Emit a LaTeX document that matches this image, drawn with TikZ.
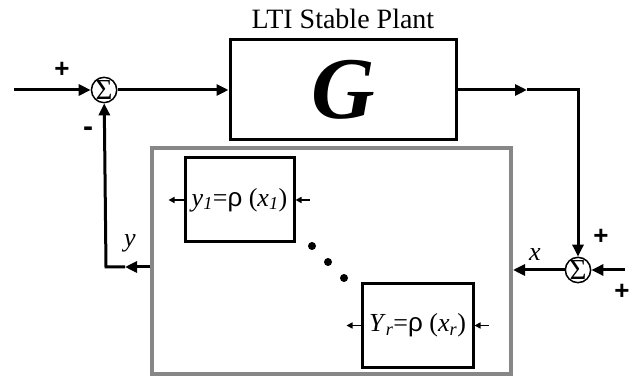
\documentclass[tikz,border=0pt]{standalone}
\usepackage{fontspec}
\setmainfont{Liberation Serif}
\setsansfont{Liberation Sans}
\newfontfamily\rhofont{Liberation Sans}
\usepackage{tikz}
\usetikzlibrary{arrows.meta, positioning}

\begin{document}
\begin{tikzpicture}[x=1pt, y=1pt, node distance=1cm,
    block/.style={rectangle, draw=black, line width=3pt, inner sep=0pt},
    plant/.style={block, minimum width=226pt, minimum height=100pt, font=\fontsize{88}{90}\selectfont\bfseries\itshape},
    nlbox/.style={block, minimum width=109pt, minimum height=84pt, font=\fontsize{26}{28}\selectfont},
    sumnode/.style={circle, draw=black, line width=1.5pt, minimum size=25pt, inner sep=0pt, font=\fontsize{29}{30}\selectfont},
    arrow/.style={-{Triangle[length=12pt,width=11pt]}, line width=3pt},
    thinarrow/.style={-{Triangle[length=6pt,width=6pt]}, line width=1.5pt},
    sign/.style={font=\fontsize{26}{28}\selectfont\sffamily\bfseries},
    sig/.style={font=\fontsize{26}{28}\selectfont\itshape}]

    \useasboundingbox (0,0) rectangle (641,379);

    \node[plant] (G) at (343,289) {G};
    \node[above=6pt of G, font=\fontsize{28}{30}\selectfont] (title) {LTI Stable Plant};
    \node[sumnode, left=111pt of G] (sum1) {Σ};
    \node[sumnode] (sum2) at (578,109) {Σ};

    % nonlinear part
    \node[rectangle, draw=black!47, line width=4pt, minimum width=359pt, minimum height=226pt] (nonlin) at (331.5,118) {};
    \node[nlbox] (yone) at (239.5,179) {\textit{y}\textsubscript{\textit{1}}={\rhofont ρ} (\textit{x}\textsubscript{\textit{1}})};
    \node[nlbox, minimum width=111pt] (yr) at (417.5,53.5) {\textit{Y}\textsubscript{\textit{r}}={\rhofont ρ} (\textit{x}\textsubscript{\textit{r}})};
    \foreach \i in {0,1,2}
        \fill (312+16*\i,133-16*\i) circle (4);

    \coordinate (lin) at (14,289);
    \coordinate (rin) at (625,109);
    \coordinate (gmid) at (527,289);
    \coordinate (gturn) at (578,289);
    \coordinate (ymid) at (125,112);
    \coordinate (yturn) at (106,112);
    \coordinate[left=15pt of yone] (yoneout);
    \coordinate[right=14pt of yone] (yonein);
    \coordinate[left=14pt of yr] (yrout);
    \coordinate[right=14pt of yr] (yrin);

    \draw[arrow] (lin) -- (sum1);
    \draw[arrow] (sum1) -- (G);
    \draw[arrow] (G) -- (gmid);
    \draw[arrow] (gmid) -- (gturn) -- (sum2);
    \draw[arrow] (rin) -- (sum2);
    \draw[arrow] (sum2) -- (sum2 -| nonlin.east);
    \draw[arrow] (nonlin.west |- yturn) -- (ymid);
    \draw[arrow] (ymid) -- (yturn) -- (sum1);
    \draw[thinarrow] (yone) -- (yoneout);
    \draw[thinarrow] (yonein) -- (yone);
    \draw[thinarrow] (yr) -- (yrout);
    \draw[thinarrow] (yrin) -- (yr);

    \node[sign] (pin1) at (62,309) {+};
    \node[sign, font=\fontsize{30}{32}\selectfont\sffamily\bfseries] (min1) at (88,247) {-};
    \node[sign] (pfb) at (601,142) {+};
    \node[sign] (pin2) at (622,87) {+};
    \node[sig] (ylab) at (130,136) {y};
    \node[sig] (xlab) at (535,124) {x};
\end{tikzpicture}
\end{document}
